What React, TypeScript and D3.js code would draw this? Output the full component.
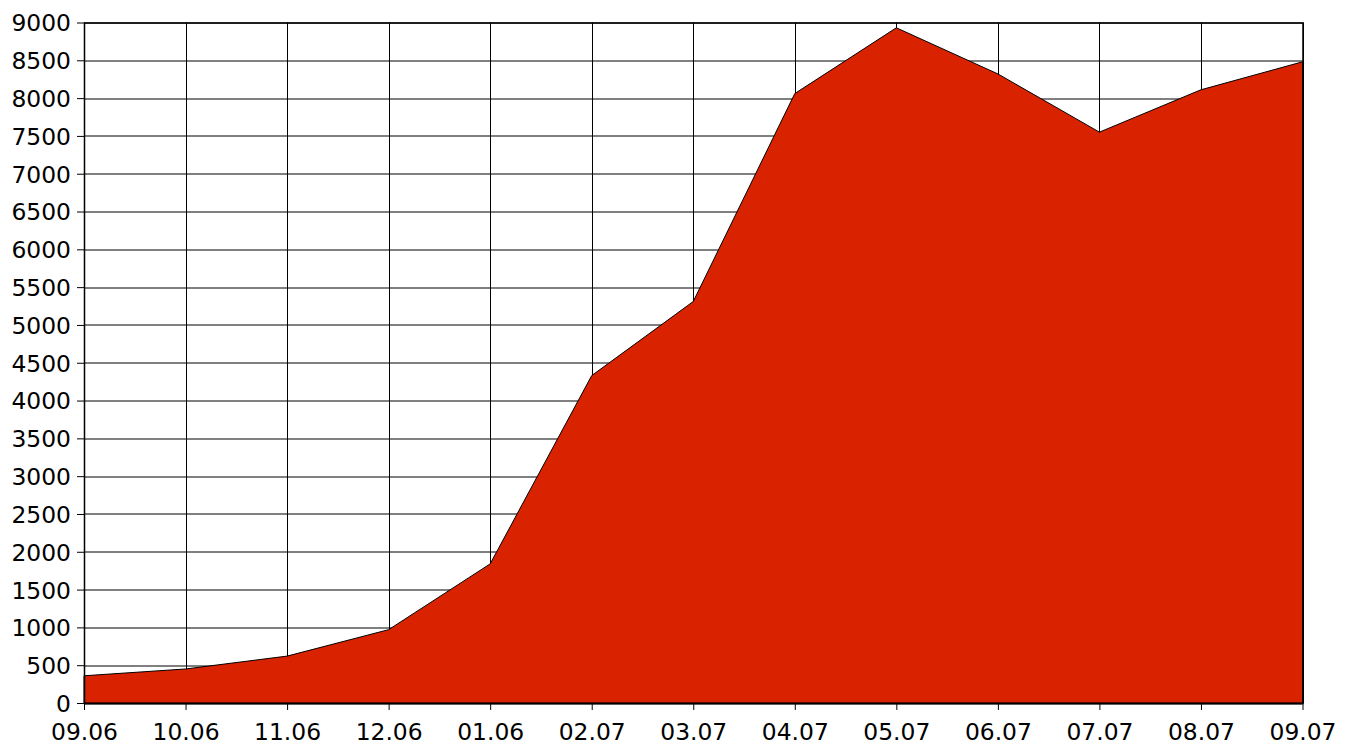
import { useEffect, useRef } from 'react';
import * as d3 from 'd3';

const months = [
  '09.06', '10.06', '11.06', '12.06', '01.06', '02.07', '03.07',
  '04.07', '05.07', '06.07', '07.07', '08.07', '09.07',
];
const values = [360, 450, 620, 970, 1840, 4330, 5310, 8060, 8930, 8320, 7550, 8110, 8480];
const yTicks = d3.range(0, 9001, 500);

const width = 1354;
const height = 747;
const margin = { top: 22.5, right: 51.5, bottom: 44, left: 84 };

export default function App() {
  const svgRef = useRef<SVGSVGElement>(null);

  useEffect(() => {
    if (!svgRef.current) return;
    const svg = d3.select(svgRef.current);
    svg.selectAll('*').remove();

    const innerWidth = width - margin.left - margin.right;
    const innerHeight = height - margin.top - margin.bottom;

    const x = d3.scalePoint<string>().domain(months).range([0, innerWidth]);
    const y = d3.scaleLinear().domain([0, 9000]).range([innerHeight, 0]);

    const g = svg.append('g')
      .attr('transform', `translate(${margin.left},${margin.top})`);

    // grid
    g.selectAll('.hgrid')
      .data(yTicks)
      .enter()
      .append('line')
      .attr('x1', 0)
      .attr('x2', innerWidth)
      .attr('y1', d => Math.round(y(d)) + 0.5)
      .attr('y2', d => Math.round(y(d)) + 0.5)
      .attr('stroke', '#000')
      .attr('stroke-width', 1);

    g.selectAll('.vgrid')
      .data(months)
      .enter()
      .append('line')
      .attr('x1', d => Math.round(x(d)!) + 0.5)
      .attr('x2', d => Math.round(x(d)!) + 0.5)
      .attr('y1', 0)
      .attr('y2', innerHeight)
      .attr('stroke', '#000')
      .attr('stroke-width', 1);

    // area
    const area = d3.area<number>()
      .x((_, i) => x(months[i])!)
      .y0(y(0))
      .y1(d => y(d));

    g.append('path')
      .datum(values)
      .attr('d', area)
      .attr('fill', '#d92300')
      .attr('stroke', '#000')
      .attr('stroke-width', 1);

    // frame
    g.append('rect')
      .attr('x', 0.5)
      .attr('y', 0.5)
      .attr('width', innerWidth)
      .attr('height', innerHeight)
      .attr('fill', 'none')
      .attr('stroke', '#000')
      .attr('stroke-width', 1.5);

    const fontFamily = '"DejaVu Sans", sans-serif';

    const yAxis = g.append('g')
      .call(d3.axisLeft(y).tickValues(yTicks).tickSize(7).tickPadding(6).tickFormat(d => String(d)));
    yAxis.select('.domain').remove();
    yAxis.selectAll('line').attr('stroke', '#000');
    yAxis.selectAll('text')
      .attr('fill', '#000')
      .attr('dy', '0.36em')
      .style('font-family', fontFamily)
      .style('font-size', '23.4px');

    const xAxis = g.append('g')
      .attr('transform', `translate(0,${innerHeight})`)
      .call(d3.axisBottom(x).tickSize(7).tickPadding(13));
    xAxis.select('.domain').remove();
    xAxis.selectAll('line').attr('stroke', '#000');
    xAxis.selectAll('text')
      .attr('fill', '#000')
      .style('font-family', fontFamily)
      .style('font-size', '23.4px');
  }, []);

  return (
    <svg
      ref={svgRef}
      width={width}
      height={height}
      style={{ position: 'absolute', left: 0, top: 0, background: '#fff' }}
    />
  );
}
